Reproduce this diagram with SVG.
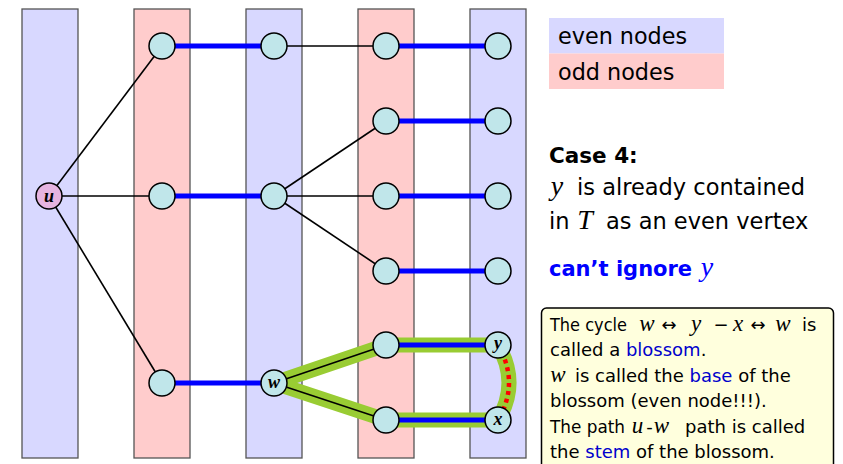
<svg xmlns="http://www.w3.org/2000/svg" width="843" height="464" viewBox="0 0 843 464">
<style>
.even{fill:#d8d8ff;stroke:#555;stroke-width:1.3}
.odd{fill:#ffcccc;stroke:#555;stroke-width:1.3}
.n{fill:#c0e6ea;stroke:#000;stroke-width:1.5}
.nu{fill:#e6b4e0;stroke:#000;stroke-width:1.5}
.bl{stroke:#0000ff;stroke-width:5;fill:none}
.k{stroke:#000;stroke-width:1.6;fill:none}
.g{stroke:#99cc33;stroke-width:15;fill:none;stroke-linejoin:round}
.t{font-family:"DejaVu Sans",sans-serif;fill:#000}
.m{font-family:"Liberation Serif",serif;font-style:italic;text-anchor:middle;fill:#000}
.ms{font-size:23px}
.mb{font-size:28px}
.c{text-anchor:middle}
.lab{font-family:"Liberation Serif",serif;font-style:italic;font-weight:bold;font-size:18px;text-anchor:middle}
.hl{fill:#0000cc}
</style>
<g id="stripes">
<rect class="even" x="22" y="9" width="56" height="449"/>
<rect class="odd" x="134" y="9" width="56" height="449"/>
<rect class="even" x="246" y="9" width="56" height="449"/>
<rect class="odd" x="358" y="9" width="56" height="449"/>
<rect class="even" x="470" y="9" width="56" height="449"/>
</g>
<g id="connectors">
<path class="g" d="M274,383 L386,345 L498,345 Q520,383 498,420 L386,420 Z"/>
<line class="k" x1="49" y1="196" x2="162" y2="46"/>
<line class="k" x1="49" y1="196" x2="162" y2="196"/>
<line class="k" x1="49" y1="196" x2="162" y2="383"/>
<line class="k" x1="274" y1="46" x2="386" y2="46"/>
<line class="k" x1="274" y1="196" x2="386" y2="121"/>
<line class="k" x1="274" y1="196" x2="386" y2="196"/>
<line class="k" x1="274" y1="196" x2="386" y2="271"/>
<line class="k" x1="274" y1="383" x2="386" y2="345"/>
<line class="k" x1="274" y1="383" x2="386" y2="420"/>
<line class="bl" x1="162" y1="46" x2="274" y2="46"/>
<line class="bl" x1="162" y1="196" x2="274" y2="196"/>
<line class="bl" x1="162" y1="383" x2="274" y2="383"/>
<line class="bl" x1="386" y1="46" x2="498" y2="46"/>
<line class="bl" x1="386" y1="121" x2="498" y2="121"/>
<line class="bl" x1="386" y1="196" x2="498" y2="196"/>
<line class="bl" x1="386" y1="271" x2="498" y2="271"/>
<line class="bl" x1="386" y1="345" x2="498" y2="345"/>
<line class="bl" x1="386" y1="420" x2="498" y2="420"/>
<path d="M498,345 Q520,383 498,420" fill="none" stroke="#ff0000" stroke-width="4.5" stroke-dasharray="4,4"/>
</g>
<g id="node-u"><circle class="nu" cx="49" cy="196" r="13"/><text class="lab" x="49" y="202">u</text></g>
<g id="node-a1"><circle class="n" cx="162" cy="46" r="13"/></g>
<g id="node-a2"><circle class="n" cx="162" cy="196" r="13"/></g>
<g id="node-a3"><circle class="n" cx="162" cy="383" r="13"/></g>
<g id="node-b1"><circle class="n" cx="274" cy="46" r="13"/></g>
<g id="node-b2"><circle class="n" cx="274" cy="196" r="13"/></g>
<g id="node-w"><circle class="n" cx="274" cy="383" r="13"/><text class="lab" x="274" y="388">w</text></g>
<g id="node-c1"><circle class="n" cx="386" cy="46" r="13"/></g>
<g id="node-c2"><circle class="n" cx="386" cy="121" r="13"/></g>
<g id="node-c3"><circle class="n" cx="386" cy="196" r="13"/></g>
<g id="node-c4"><circle class="n" cx="386" cy="271" r="13"/></g>
<g id="node-c5"><circle class="n" cx="386" cy="345" r="13"/></g>
<g id="node-c6"><circle class="n" cx="386" cy="420" r="13"/></g>
<g id="node-d1"><circle class="n" cx="498" cy="46" r="13"/></g>
<g id="node-d2"><circle class="n" cx="498" cy="121" r="13"/></g>
<g id="node-d3"><circle class="n" cx="498" cy="196" r="13"/></g>
<g id="node-d4"><circle class="n" cx="498" cy="271" r="13"/></g>
<g id="node-y"><circle class="n" cx="498" cy="345" r="13"/><text class="lab" x="498" y="349">y</text></g>
<g id="node-x"><circle class="n" cx="498" cy="420" r="13"/><text class="lab" x="498" y="425">x</text></g>
<g id="legend">
<rect x="549" y="18" width="175" height="35.5" fill="#d8d8ff"/>
<rect x="549" y="53.5" width="175" height="35.5" fill="#ffcccc"/>
<text class="t" x="558" y="44" font-size="22.3">even nodes</text>
<text class="t" x="558" y="80" font-size="22.3">odd nodes</text>
</g>
<g id="case">
<text class="t" x="549" y="163" font-size="21.5" font-weight="bold">Case 4:</text>
<text class="m mb" x="557" y="195">y</text>
<text class="t" x="577" y="195" font-size="22.5">is already contained</text>
<text class="t" x="549" y="229" font-size="22.5">in</text>
<text class="m mb" x="585" y="229">T</text>
<text class="t" x="606" y="229" font-size="22.5">as an even vertex</text>
<text class="t" x="549" y="276" font-size="21" font-weight="bold" style="fill:#0000ff">can’t ignore</text>
<text class="m mb" x="707" y="276" style="fill:#0000ff">y</text>
</g>
<g id="note">
<rect x="541.5" y="308" width="292" height="175" rx="5" fill="#ffffdd" stroke="#000" stroke-width="1.5"/>
<text class="t" x="550" y="331" font-size="18" textLength="77" lengthAdjust="spacingAndGlyphs">The cycle</text>
<text class="m ms" x="647" y="331">w</text>
<text class="t c" x="669" y="331" font-size="18">↔</text>
<text class="m ms" x="696" y="331">y</text>
<text class="t c" x="721" y="331" font-size="18">−</text>
<text class="m ms" x="738" y="331">x</text>
<text class="t c" x="758" y="331" font-size="18">↔</text>
<text class="m ms" x="783" y="331">w</text>
<text class="t" x="802" y="331" font-size="18">is</text>
<text class="t" x="550" y="356" font-size="18">called a <tspan class="hl">blossom</tspan>.</text>
<text class="m ms" x="558" y="382">w</text>
<text class="t" x="575" y="382" font-size="18">is called the <tspan class="hl">base</tspan> of the</text>
<text class="t" x="550" y="407" font-size="18">blossom (even node!!!).</text>
<text class="t" x="550" y="433" font-size="18" textLength="75" lengthAdjust="spacingAndGlyphs">The path</text>
<text class="m ms" x="637.5" y="433">u</text>
<text class="t c" x="649.5" y="433" font-size="18">-</text>
<text class="m ms" x="661.5" y="433">w</text>
<text class="t" x="685" y="433" font-size="18">path is called</text>
<text class="t" x="550" y="458" font-size="18">the <tspan class="hl">stem</tspan> of the blossom.</text>
</g>
</svg>
